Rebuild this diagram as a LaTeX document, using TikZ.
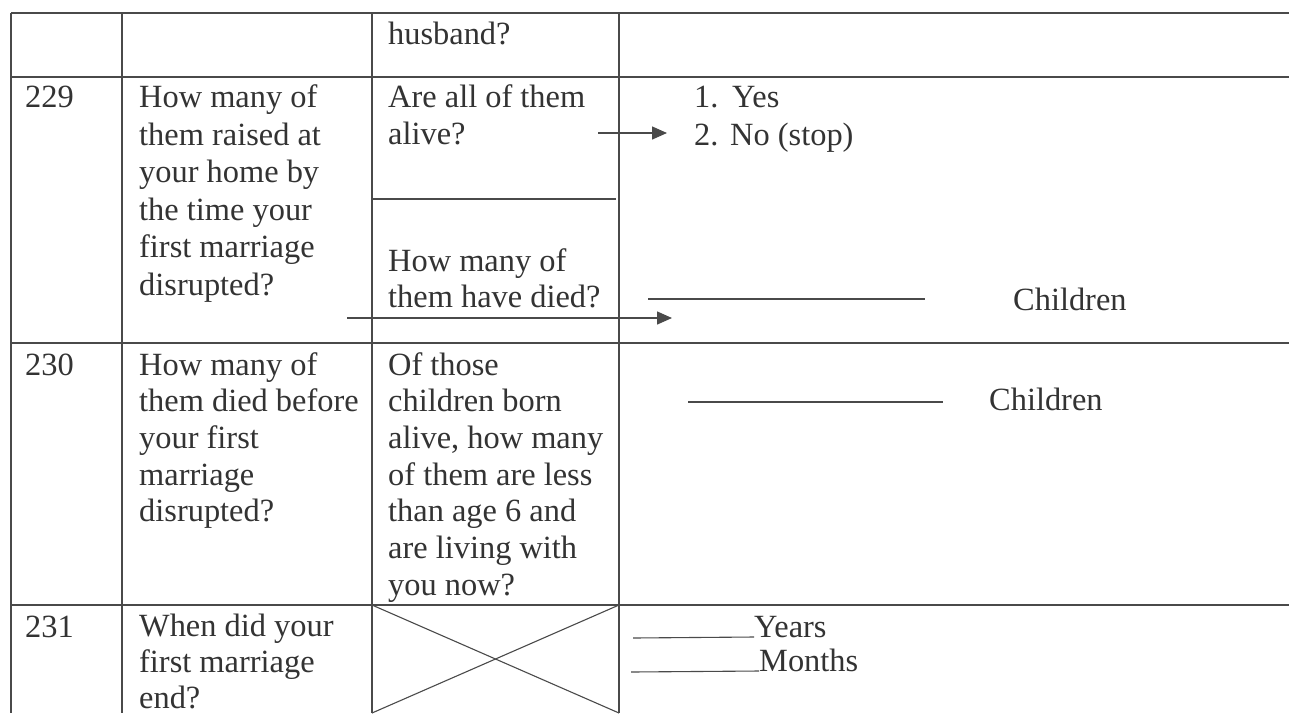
\documentclass[tikz,border=0pt]{standalone}
\usepackage{fontspec}
\setmainfont{Liberation Serif}
\usetikzlibrary{arrows.meta}
\definecolor{ink}{HTML}{333333}
\definecolor{rule}{HTML}{4A4A4A}
\newcommand{\fsz}[1]{\fontsize{32.4}{#1}\selectfont}
\begin{document}
\begin{tikzpicture}[x=1pt,y=-1pt,
  gridline/.style={draw=rule, line width=1.4pt},
  thinline/.style={draw=rule, line width=1.1pt},
  arr/.style={draw=rule, line width=1.4pt, -{Triangle[length=15pt,width=13pt]}},
  cell/.style={anchor=north west, inner sep=0pt, align=left, text=ink},
  lbl/.style={anchor=base west, inner sep=0pt, text=ink, font=\fsz{37}}]
\useasboundingbox (0,0) rectangle (1289,713);
\fill[white] (0,0) rectangle (1289,713);
% grid
\draw[gridline] (11,13) -- (1289,13);
\draw[gridline] (11,77) -- (1289,77);
\draw[gridline] (11,343) -- (1289,343);
\draw[gridline] (11,605) -- (1289,605);
\draw[gridline] (11,13) -- (11,713);
\draw[gridline] (122,13) -- (122,713);
\draw[gridline] (372,13) -- (372,713);
\draw[gridline] (619,13) -- (619,713);
\draw[gridline] (372,199) -- (616,199);
% cross in 231
\draw[thinline] (372,605) -- (619,713);
\draw[thinline] (372,713) -- (619,605);
% texts
\node[cell, font=\fsz{37}] (husb) at (388,18.1) {\strut husband?};
\node[cell, font=\fsz{37}] (n229) at (25,81.1) {\strut 229};
\node[cell, font=\fsz{37.5}] (q229) at (139,81.1) {\strut How many of\\them raised at\\your home by\\the time your\\first marriage\\disrupted?};
\node[cell, font=\fsz{37}] (a229) at (388,81.1) {\strut Are all of them\\alive?};
\node[cell, font=\fsz{36}] (d229) at (388,246.1) {\strut How many of\\them have died?};
\node[cell, font=\fsz{38}] (ans1) at (694,81.1) {\strut\makebox[38pt][l]{1.}Yes\\\makebox[36pt][l]{2.}No (stop)};
\node[lbl] (ch1) at (1013,310) {Children};
\node[cell, font=\fsz{37}] (n230) at (25,349.1) {\strut 230};
\node[cell, font=\fsz{36.7}] (q230) at (139,349.1) {\strut How many of\\them died before\\your first\\marriage\\disrupted?};
\node[cell, font=\fsz{36.7}] (a230) at (388,349.1) {\strut Of those\\children born\\alive, how many\\of them are less\\than age 6 and\\are living with\\you now?};
\node[lbl] (ch2) at (989,410) {Children};
\node[cell, font=\fsz{37}] (n231) at (25,611.1) {\strut 231};
\node[cell, font=\fsz{36}] (q231) at (139,611.1) {\strut When did your\\first marriage\\end?};
\node[lbl] (yrs) at (754,637) {Years};
\node[lbl] (mon) at (759,671) {Months};
% blanks
\coordinate (b1s) at (648,299); \coordinate (b1e) at (925,299);
\draw[thinline] (b1s) -- (b1e);
\coordinate (b2s) at (688,402); \coordinate (b2e) at (943,402);
\draw[thinline] (b2s) -- (b2e);
\coordinate (ys) at (633,638);
\draw[thinline] (ys) -- (yrs.base west);
\coordinate (ms) at (631,672);
\draw[thinline] (ms) -- (mon.base west);
% arrows
\coordinate (a1s) at (598,133); \coordinate (a1e) at (667,133);
\draw[arr] (a1s) -- (a1e);
\coordinate (a2s) at (347,318); \coordinate (a2e) at (672,318);
\draw[arr] (a2s) -- (a2e);
\end{tikzpicture}
\end{document}
